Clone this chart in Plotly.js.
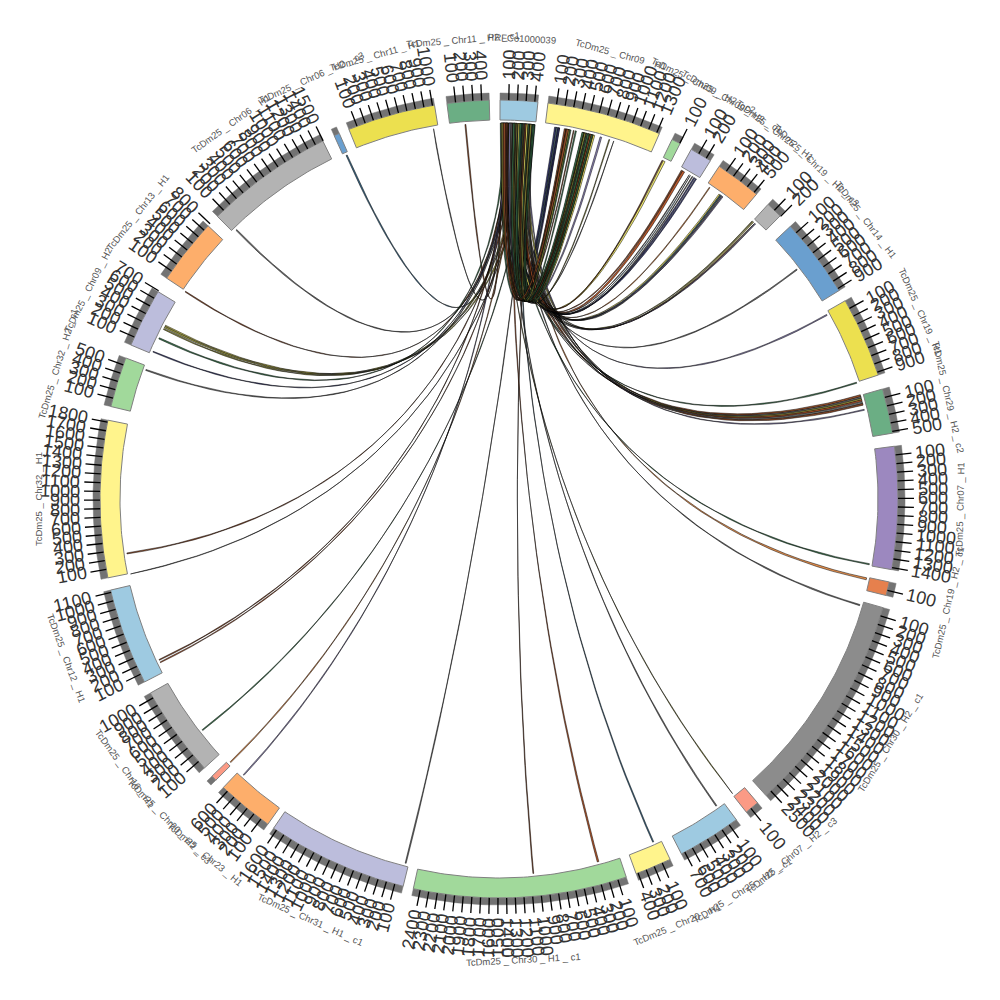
<!DOCTYPE html>
<html><head><meta charset="utf-8">
<script src="https://cdn.plot.ly/plotly-3.0.1.min.js"></script>
<style>html,body{margin:0;padding:0;background:#fff}</style></head>
<body><div id="c" style="width:1000px;height:1000px"></div>
<script>
const sectorNames=["PRFCo1000039","TcDm25 _ Chr09 _ H1","TcDm25 _ Chr09 _ H2 _ c2","TcDm25 _ Chr09 _ H2 _ c1","TcDm25 _ Chr25 _ H1","TcDm25 _ Chr19 _ H2 _ c3","TcDm25 _ Chr14 _ H1","TcDm25 _ Chr19 _ H1","TcDm25 _ Chr29 _ H2 _ c2","TcDm25 _ Chr07 _ H1","TcDm25 _ Chr19 _ H2 _ c1","TcDm25 _ Chr30 _ H2 _ c1","TcDm25 _ Chr07 _ H2 _ c3","TcDm25 _ Chr25 _ H2 _ c1","TcDm25 _ Chr20 _ H1","TcDm25 _ Chr30 _ H1 _ c1","TcDm25 _ Chr31 _ H1 _ c1","TcDm25 _ Chr23 _ H1","TcDm25 _ Chr20 _ H2 _ c3","TcDm25 _ Chr16 _ H1","TcDm25 _ Chr12 _ H1","TcDm25 _ Chr32 _ H1","TcDm25 _ Chr32 _ H2 _ c1","TcDm25 _ Chr09 _ H2","TcDm25 _ Chr13 _ H1","TcDm25 _ Chr06 _ H1","TcDm25 _ Chr06 _ H2 _ c3","TcDm25 _ Chr11 _ H1","TcDm25 _ Chr11 _ H2 _ c1"];
const sectorStart=[0.15,7.05,25.7,28.8,33.5,42.4,46.9,60.2,74,82.4,102,105.8,139.6,143.5,154.6,161.4,193.9,215.4,225.2,227.6,242.7,258.6,283.4,292.7,303.6,315.1,335.6,337.9,352.5];
const sectorEnd=[5.6,23.7,27,32,40.2,44.8,58.5,71.9,80.5,100.2,104,138,141.7,152.8,159.9,192.4,214.4,223.7,226,240.9,256.8,281.4,290.7,301.3,313.2,333.8,336.4,350.7,358.6];
const sectorColors=["#9ecae1","#fff48c","#a1d99b","#bcbddc","#fdae6b","#b3b3b3","#6a9fcf","#ece04f","#6bae84","#9c88bf","#e6804d","#8c8c8c","#fb9a85","#9ecae1","#fff48c","#a1d99b","#bcbddc","#fdae6b","#fb9a85","#b3b3b3","#9ecae1","#fff48c","#a1d99b","#bcbddc","#fdae6b","#b3b3b3","#6a9fcf","#ece04f","#6bae84"];
const tickCounts=[4,13,1,2,5,2,9,9,5,14,1,25,1,7,4,24,16,6,0,10,11,18,5,7,8,15,0,10,4];
const degPerHundred=1.25;

const G="#3f7a52",B="#96502c",O="#9a9840",N="#3b3f78",Y="#f5ec6e",L="#9ecae1",P="#8f86b8",K="#757575",R="#b8582c",T="#3f6e8e",A="#e6904d";
const linkSources=[0.5,0.7,1.0,1.3,1.5,4.6,3.6,3.9,0.9,2.0,
 2.3,2.6,4.3,1.8,3.2,5.0,2.9,1.1,4.8,5.2,
 2.1,3.4,1.6,0.4,2.8,4.0,1.2,3.0,0.6,4.4,
 1.9,3.7,2.4,4.9,0.8,3.3,2.2,1.4,4.1,2.7,
 0.3,3.5,1.7,4.7,0.55,3.1,2.5,5.3,1.05,3.85,
 2.05,4.25,0.75,2.95,4.55,1.35,3.65,1.55,4.15,2.65,
 5.1,0.95,2.35,3.25,1.85,4.45,0.35,3.95,2.15,5.25,
 1.25,3.15,4.75,0.65];
const linkTargets=[354.8,349.9,336,315.6,303.4,297.1,297.4,296.8,295.2,293,
 290,261.6,258.5,244.6,244.2,232,225.5,222.7,194.3,174.7,
 164.6,155.7,144.6,141.5,106.3,102.1,99.9,73.9,74.2,74.45,
 74.7,75,75.3,76.2,71.9,60.6,52.3,42.3,42.5,42.75,
 42.9,36,35.8,36.2,36.4,34,31.2,30.9,31.5,30.6,
 30.3,29.2,29,25.9,25.7,17.7,17,15.6,14.5,14.3,
 14.15,13.95,13.75,13.6,13.4,13.25,13.1,12.9,12.75,11.7,
 11.4,10.8,10.6,10.35];
const linkWidths=[.12,.06,.15,.14,.1,.2,.1,.12,.15,.1,
 .12,.12,.06,.1,.1,.12,.12,.12,.12,.1,
 .2,.14,.14,.08,.14,.25,.14,.3,.2,.25,
 .2,.25,.2,.12,.14,.14,.14,.1,.1,.08,
 .1,.15,.15,.15,.12,.1,.15,.1,.15,.08,
 .08,.3,.15,.25,.1,.06,.1,.2,.2,.15,
 .2,.2,.15,.2,.15,.15,.2,.15,.2,.15,
 .1,.2,.2,.25];
const linkColors=[B,K,T,K,B,O,Y,O,G,N,
 K,B,K,B,R,G,A,P,K,B,
 R,T,K,O,K,A,G,B,K,O,
 R,K,B,P,G,P,K,O,Y,B,
 P,T,Y,K,P,A,N,K,N,L,
 K,R,B,Y,B,K,O,P,Y,O,
 G,B,O,G,K,G,O,B,G,G,
 B,G,O,B];
const extraSources=[0.2,1.45,2.25,3.05,3.8,4.9,5.4,5.0,0.45,1.15,1.75,2.45,3.45,4.05,4.65,5.15];
const extraTargets=[10.15,8.95,8.7,8.5,10.0,9.1,8.8,13.0,13.3,13.9,14.1,12.85,10.5,10.25,13.7,14.4];
const extraWidths=[.2,.25,.15,.2,.2,.15,.1,.2,.2,.2,.2,.2,.2,.2,.2,.15];
const extraColors=[G,N,L,N,B,N,L,Y,B,G,O,B,G,B,B,Y];
const linkWidthScale=1.25;

const CX=499,CY=499,Rin=379,Rout=399,Rband=406,Rtick=415,Rlabel=419,Rname=461,Rlink=376,Rctrl=142;
const px=(r,a)=>CX+r*Math.sin(a*Math.PI/180), py=(r,a)=>CY-r*Math.cos(a*Math.PI/180);
function band(r0,r1,a0,a1){
  const xs=[],ys=[];const n=Math.max(2,Math.ceil((a1-a0)/0.6));
  for(let i=0;i<=n;i++){const a=a0+(a1-a0)*i/n;xs.push(px(r1,a));ys.push(py(r1,a));}
  for(let i=n;i>=0;i--){const a=a0+(a1-a0)*i/n;xs.push(px(r0,a));ys.push(py(r0,a));}
  xs.push(xs[0]);ys.push(ys[0]);return [xs,ys];
}
function bez(s,t){
  const p=[[px(Rlink,s),py(Rlink,s)],[px(Rctrl,s),py(Rctrl,s)],[px(Rctrl,t),py(Rctrl,t)],[px(Rlink,t),py(Rlink,t)]];
  const out=[];
  for(let i=0;i<=40;i++){const u=i/40,v=1-u;
    out.push([v*v*v*p[0][0]+3*v*v*u*p[1][0]+3*v*u*u*p[2][0]+u*u*u*p[3][0],
              v*v*v*p[0][1]+3*v*v*u*p[1][1]+3*v*u*u*p[2][1]+u*u*u*p[3][1]]);}
  return out;
}
const traces=[];
function addLink(s,t,w0,c){
  const w=w0*linkWidthScale;
  const e1=bez(s,t),e2=bez(s+w,t+w).reverse();
  const all=e1.concat(e2);all.push(e1[0]);
  traces.push({type:"scatter",mode:"lines",x:all.map(q=>q[0]),y:all.map(q=>q[1]),fill:"toself",fillcolor:c,line:{color:"#000",width:0.5},hoverinfo:"skip",showlegend:false});
}
extraSources.forEach((s,i)=>addLink(s,extraTargets[i],extraWidths[i],extraColors[i]));
linkSources.forEach((s,i)=>addLink(s,linkTargets[i],linkWidths[i],linkColors[i]));

const ann=[];const tx=[],ty=[];
sectorNames.forEach((nm,i)=>{
  const a0=sectorStart[i],a1=sectorEnd[i];
  const [gx,gy]=band(Rout,Rband,a0,a1);
  traces.push({type:"scatter",mode:"lines",x:gx,y:gy,fill:"toself",fillcolor:"#737373",line:{color:"#737373",width:0.5},hoverinfo:"skip",showlegend:false});
  const [bx,by]=band(Rin,Rout,a0,a1);
  traces.push({type:"scatter",mode:"lines",x:bx,y:by,fill:"toself",fillcolor:sectorColors[i],line:{color:"#808080",width:1},hoverinfo:"skip",showlegend:false});
  const mid=(a0+a1)/2;
  const m=((mid%360)+360)%360;
  ann.push({x:px(Rname,mid),y:py(Rname,mid),xref:"x",yref:"y",text:nm,showarrow:false,xanchor:"center",yanchor:"middle",
    textangle:(m<=90||m>=270)?(m>=270?m-360:m):m-180,font:{family:"Liberation Sans",size:9.5,color:"#555"}});
  for(let k=1;k<=tickCounts[i];k++){
    const a=a0+k*degPerHundred;
    tx.push(px(Rout,a),px(Rtick,a),null);ty.push(py(Rout,a),py(Rtick,a),null);
    const lab=String(k*100);const w=lab.length*10;
    const r=Rlabel+w/2;
    const ang=a<180?a-90:a-270;
    ann.push({x:px(r,a),y:py(r,a),xref:"x",yref:"y",text:lab,showarrow:false,xanchor:"center",yanchor:"middle",textangle:ang,font:{family:"Liberation Sans",size:18,color:"#333"}});
  }
});
traces.push({type:"scatter",mode:"lines",x:tx,y:ty,line:{color:"#000",width:1.3},hoverinfo:"skip",showlegend:false,connectgaps:false});

Plotly.newPlot("c",traces,{width:1000,height:1000,margin:{l:0,r:0,t:0,b:0},paper_bgcolor:"#fff",plot_bgcolor:"#fff",showlegend:false,
  xaxis:{range:[0,1000],visible:false,fixedrange:true},yaxis:{range:[1000,0],visible:false,fixedrange:true},annotations:ann},{displayModeBar:false,staticPlot:true});
</script></body></html>
